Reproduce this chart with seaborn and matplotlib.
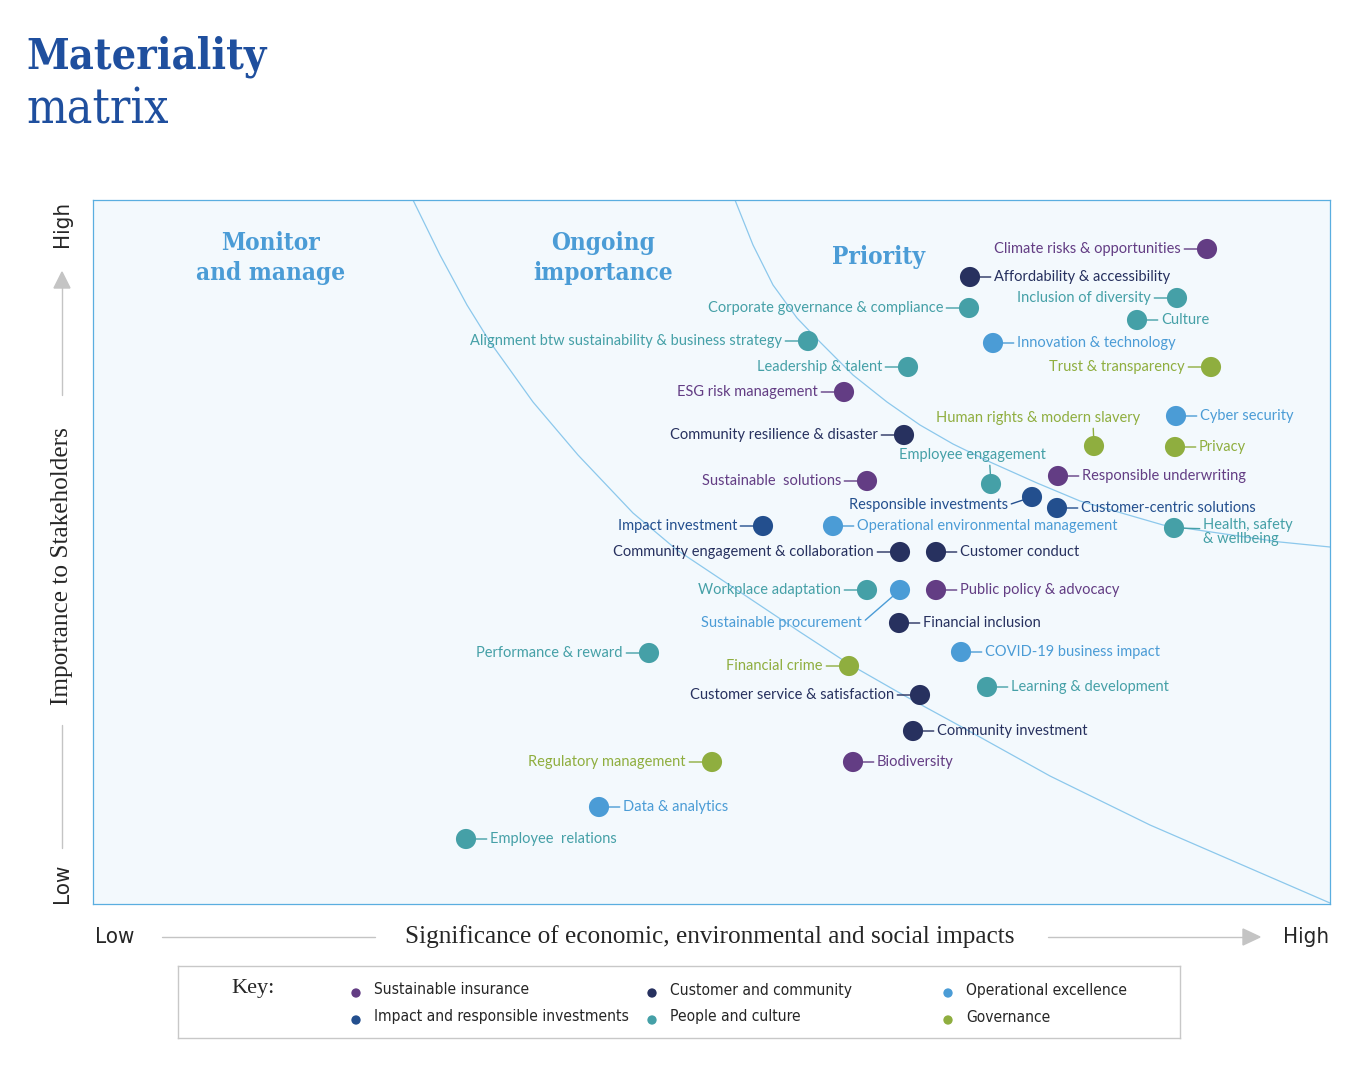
import matplotlib
matplotlib.use('Agg')
import matplotlib.pyplot as plt
from matplotlib.patches import Polygon
import seaborn as sns
import pandas as pd

# topics on the matrix: significance (x) and importance to stakeholders (y)
topics = ['Climate risks & opportunities', 'Affordability & accessibility', 'Inclusion of diversity',
          'Culture', 'Corporate governance & compliance', 'Innovation & technology',
          'Trust & transparency', 'Alignment btw sustainability & business strategy',
          'Leadership & talent', 'ESG risk management', 'Community resilience & disaster',
          'Cyber security', 'Human rights & modern slavery', 'Privacy', 'Employee engagement',
          'Responsible underwriting', 'Sustainable  solutions', 'Responsible investments',
          'Customer-centric solutions', 'Health, safety\n& wellbeing', 'Impact investment',
          'Operational environmental management', 'Community engagement & collaboration',
          'Customer conduct', 'Workplace adaptation', 'Sustainable procurement',
          'Public policy & advocacy', 'Financial inclusion', 'Performance & reward',
          'COVID-19 business impact', 'Financial crime', 'Learning & development',
          'Customer service & satisfaction', 'Community investment', 'Regulatory management',
          'Biodiversity', 'Data & analytics', 'Employee  relations']
group = ['SI', 'CC', 'PC', 'PC', 'PC', 'OE', 'GOV', 'PC', 'PC', 'SI', 'CC', 'OE', 'GOV', 'GOV',
         'PC', 'SI', 'SI', 'IRI', 'IRI', 'PC', 'IRI', 'OE', 'CC', 'CC', 'PC', 'OE', 'SI', 'CC',
         'PC', 'OE', 'GOV', 'PC', 'CC', 'CC', 'GOV', 'SI', 'OE', 'PC']
significance = [1114, 877, 1084, 1044, 876, 900, 1118, 715, 815, 751, 811, 1083, 1001, 1082,
                898, 965, 774, 939, 964, 1081, 670, 740, 807, 843, 774, 807, 843, 806, 556,
                868, 756, 894, 827, 820, 619, 760, 506, 373]
importance = [655, 627, 606, 584, 596, 561, 537, 563, 537, 512, 469, 488, 458, 457, 420, 428,
              423, 407, 396, 376, 378, 378, 352, 352, 314, 314, 314, 281, 251, 252, 238, 217,
              209, 173, 142, 142, 97, 65]

group_names = {'SI': 'Sustainable insurance', 'IRI': 'Impact and responsible investments',
               'CC': 'Customer and community', 'PC': 'People and culture',
               'OE': 'Operational excellence', 'GOV': 'Governance'}
group_colors = {'SI': '#633d84', 'IRI': '#234f8e', 'CC': '#27315f', 'PC': '#45a0a7',
                'OE': '#4b9cd6', 'GOV': '#8fae3f'}

# zone boundaries
inner_x = [320, 347, 374, 397, 440, 485, 540, 584, 647, 707, 756, 812, 867, 957, 1057, 1237]
inner_y = [704, 649, 599, 562, 502, 449, 391, 354, 312, 272, 240, 208, 178, 128, 79, 1]
outer_x = [642, 660, 680, 704, 727, 760, 794, 827, 860, 897, 944, 987, 1070, 1187, 1237]
outer_y = [704, 659, 619, 586, 562, 529, 502, 479, 460, 442, 421, 403, 379, 362, 357]

df = pd.DataFrame({'topic': topics, 'group': group, 'x': significance, 'y': importance})

# which side each label sits on; special ones get (dx, dy, ha, relpos) in pixels
side = ['l', 'r', 'l', 'r', 'l', 'r', 'l', 'l', 'l', 'l', 'l', 'r', 's', 'r', 's', 'r', 'l',
        's', 'r', 's', 'l', 'r', 'l', 'r', 'l', 's', 'r', 'r', 'l', 'r', 'l', 'r', 'l', 'r',
        'l', 'r', 'r', 'r']
special = {'Human rights & modern slavery': (-56, 28, 'center', (0.77, 0.0)),
           'Employee engagement': (-19, 29, 'center', (0.62, 0.0)),
           'Responsible investments': (-24, -8, 'right', (1.0, 0.5)),
           'Sustainable procurement': (-38, -33, 'right', (1.0, 0.5)),
           'Health, safety\n& wellbeing': (29, -4, 'left', (0.0, 0.62))}

sns.set_theme(style='white')
plt.rcParams['font.family'] = ['Lato', 'DejaVu Sans']

fig = plt.figure(figsize=(13.65, 10.70), dpi=100)
ax = fig.add_axes([93 / 1365, 1 - 904 / 1070, 1237 / 1365, 704 / 1070])
ax.set_facecolor('#f3f9fd')
for s in ax.spines.values():
    s.set_color('#5aaee0')
    s.set_linewidth(0.9)

ax.plot(inner_x, inner_y, color='#8cc8ec', lw=0.9)
ax.plot(outer_x, outer_y, color='#8cc8ec', lw=0.9)

sns.scatterplot(data=df, x='x', y='y', hue='group', palette=group_colors, s=210,
                edgecolor='none', legend=False, ax=ax, zorder=3)

pt = 72 / 100
for i, row in df.iterrows():
    c = group_colors[row['group']]
    if side[i] == 'l':
        dx, dy, ha, rp = -26, 0, 'right', (1.0, 0.5)
    elif side[i] == 'r':
        dx, dy, ha, rp = 24, 0, 'left', (0.0, 0.5)
    else:
        dx, dy, ha, rp = special[row['topic']]
    ax.annotate(row['topic'], (row['x'], row['y']), xytext=(dx * pt, dy * pt),
                textcoords='offset points', ha=ha, va='center', color=c, fontsize=10.5,
                linespacing=0.95, annotation_clip=False,
                arrowprops=dict(arrowstyle='-', color=c, lw=1, shrinkA=0, shrinkB=7,
                                relpos=rp))

ax.set_xlim(0, 1237)
ax.set_ylim(0, 704)
ax.set_xticks([])
ax.set_yticks([])
ax.set_xlabel('')
ax.set_ylabel('')

# overlay in pixel coordinates for titles and axis arrows
ov = fig.add_axes([0, 0, 1, 1])
ov.set_xlim(0, 1365)
ov.set_ylim(1070, 0)
ov.axis('off')
ov.patch.set_alpha(0)

navy = '#1f4f9e'
ov.text(26, 68, 'Materiality', color=navy, fontsize=31, fontweight='bold',
        family='DejaVu Serif', fontstretch='condensed', va='baseline')
ov.text(26, 123, 'matrix', color=navy, fontsize=34.5, family='DejaVu Serif',
        fontstretch='condensed', va='baseline')

zone_col = '#4b9cd6'
for label, x, y in [('Monitor\nand manage', 271, 258), ('Ongoing\nimportance', 603, 258),
                    ('Priority', 879, 257)]:
    ov.text(x, y, label, color=zone_col, fontsize=17.5, fontweight='bold', family='DejaVu Serif',
            fontstretch='condensed', ha='center', va='center', linespacing=1.3)

grey = '#c4c4c4'
ov.text(62, 224, 'High', rotation=90, ha='center', va='center', fontsize=16,
        family='DejaVu Sans', fontstretch='condensed')
ov.text(62, 883, 'Low', rotation=90, ha='center', va='center', fontsize=16,
        family='DejaVu Sans', fontstretch='condensed')
ov.text(62, 566, 'Importance to Stakeholders', rotation=90, ha='center', va='center',
        fontsize=18.2, family='Liberation Serif')
ov.plot([62, 62], [287, 395], color=grey, lw=1)
ov.plot([62, 62], [725, 848], color=grey, lw=1)
ov.add_patch(Polygon([(54, 288), (70, 288), (62, 272)], color=grey))

ov.text(115, 937, 'Low', ha='center', va='center', fontsize=16, family='DejaVu Sans',
        fontstretch='condensed')
ov.text(1306, 937, 'High', ha='center', va='center', fontsize=16, family='DejaVu Sans',
        fontstretch='condensed')
ov.text(710, 937, 'Significance of economic, environmental and social impacts', ha='center',
        va='center', fontsize=18.2, family='Liberation Serif')
ov.plot([162, 375], [937, 937], color=grey, lw=1)
ov.plot([1048, 1243], [937, 937], color=grey, lw=1)
ov.add_patch(Polygon([(1243, 929), (1243, 945), (1260, 937)], color=grey))

# key box
key = fig.add_axes([178 / 1365, 1 - 1038 / 1070, 1002 / 1365, 72 / 1070])
key.set_xlim(0, 1002)
key.set_ylim(72, 0)
key.set_xticks([])
key.set_yticks([])
key.set_facecolor('white')
for s in key.spines.values():
    s.set_color('#c8c8c8')
    s.set_linewidth(1)
key.text(53, 23, 'Key:', fontsize=16, family='Liberation Serif', va='center')
for i, g in enumerate(['SI', 'IRI', 'CC', 'PC', 'OE', 'GOV']):
    kx = 178 + (i // 2) * 296
    ky = 27 + (i % 2) * 27
    key.scatter([kx], [ky], s=45, color=group_colors[g], edgecolor='none')
    key.text(kx + 18, ky - 3, group_names[g], fontsize=11.2, family='DejaVu Sans',
             fontstretch='condensed', va='center')

fig.savefig('out.png', dpi=100)
